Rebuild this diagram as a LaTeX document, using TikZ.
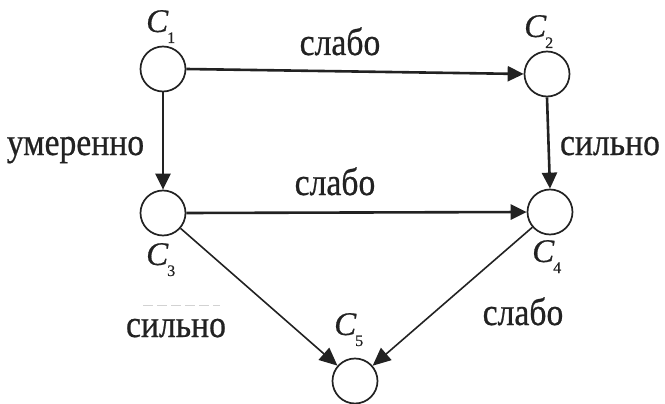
\documentclass[tikz,border=0pt]{standalone}
\usepackage{graphicx}
\usepackage{fontspec}
\setmainfont{Liberation Serif}
\newfontfamily\lblfont[FakeBold=0.7]{Liberation Serif}
\newfontfamily\cfont[FakeBold=0.5]{Liberation Serif}
\usetikzlibrary{arrows.meta}
\definecolor{ink}{HTML}{222222}
\newcommand\talltext[1]{\scalebox{1.02}[1.17]{#1}}
\newcommand\cname[1]{C\kern-1pt\raisebox{-11pt}{\fontsize{16}{16}\selectfont\upshape #1}}
\begin{document}
\begin{tikzpicture}[x=1pt,y=-1pt,
  state/.style={circle, draw=ink, line width=1.7pt, minimum size=45pt, inner sep=0pt},
  lbl/.style={anchor=base, inner sep=0pt, text=ink, font=\lblfont\fontsize{33}{40}\selectfont},
  clbl/.style={anchor=base west, inner sep=0pt, text=ink, font=\cfont\fontsize{33}{36}\selectfont\itshape},
  edgeline/.style={draw=ink, line width=2.6pt, -{Triangle[length=16pt,width=15pt]}},
  diagline/.style={draw=ink, line width=1.6pt, -{Triangle[length=18pt,width=16pt]}}]
\useasboundingbox (0,0) rectangle (665,404);

\node[state] (c1) at (163,69) {};
\node[state] (c2) at (547,74) {};
\node[state] (c3) at (163,213) {};
\node[state] (c4) at (550,212) {};
\node[state] (c5) at (355,381) {};

\node[clbl] (n1) at (146,32) {\cname{1}};
\node[clbl] (n2) at (524,37) {\cname{2}};
\node[clbl] (n3) at (146,265) {\cname{3}};
\node[clbl] (n4) at (532,262) {\cname{4}};
\node[clbl] (n5) at (334,335) {\cname{5}};

\draw[edgeline] (c1.east) -- (c2.west);
\draw[edgeline] (c1.south) -- (c3.north);
\draw[edgeline] (c2.south) -- (c4.north);
\draw[edgeline] (c3.east) -- (c4.west);
\draw[diagline] (c3) -- (c5);
\draw[diagline] (c4) -- (c5);

\node[lbl] (l12) at (340,55) {\talltext{слабо}};
\node[lbl] (l13) at (75.5,155) {\talltext{умеренно}};
\node[lbl] (l24) at (610,155) {\talltext{сильно}};
\node[lbl] (l34) at (335,195) {\talltext{слабо}};
\node[lbl] (l35) at (176,337) {\talltext{сильно}};
\node[lbl] (l45) at (523,325) {\talltext{слабо}};

\draw[gray!35, line width=0.8pt, dash pattern=on 10pt off 4pt] (143,305) -- (220,305);
\end{tikzpicture}
\end{document}
